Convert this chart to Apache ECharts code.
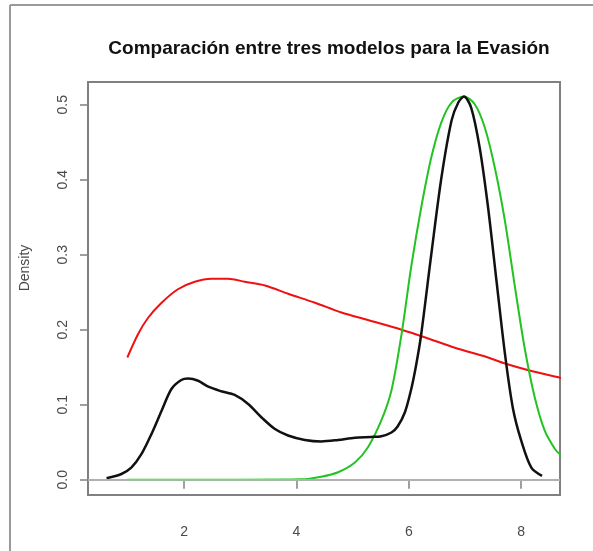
<!DOCTYPE html>
<html>
<head>
<meta charset="utf-8">
<script src="https://cdn.jsdelivr.net/npm/echarts@6/dist/echarts.min.js"></script>
<style>
  html, body { margin: 0; padding: 0; background: #fff; }
  #chart { width: 593px; height: 551px; }
</style>
</head>
<body>
<div id="chart"></div>
<script>
// ---- Data ----
const titleText = "Comparación entre tres modelos para la Evasión";
const yAxisLabel = "Density";
const xTicks = [2, 4, 6, 8];
const yTicks = [0, 0.1, 0.2, 0.3, 0.4, 0.5];

// Black: empirical density
const blackX = [0.62, 0.885, 1.06, 1.24, 1.42, 1.60, 1.775, 1.95, 2.07, 2.25, 2.43, 2.66, 2.90, 3.14, 3.38, 3.61, 3.85, 4.15, 4.44, 4.74, 5.04, 5.33, 5.51, 5.69, 5.80, 5.93, 6.04, 6.13, 6.22, 6.40, 6.58, 6.76, 6.88, 6.98, 7.11, 7.26, 7.41, 7.56, 7.71, 7.85, 8.00, 8.18, 8.37];
const blackY = [0.002, 0.0076, 0.016, 0.034, 0.061, 0.092, 0.121, 0.133, 0.135, 0.132, 0.124, 0.118, 0.113, 0.101, 0.083, 0.068, 0.059, 0.053, 0.051, 0.053, 0.056, 0.057, 0.058, 0.063, 0.071, 0.090, 0.120, 0.153, 0.194, 0.301, 0.403, 0.479, 0.503, 0.511, 0.496, 0.443, 0.363, 0.265, 0.168, 0.096, 0.052, 0.016, 0.005];

// Red model
const redX = [0.99, 1.18, 1.36, 1.60, 1.89, 2.19, 2.49, 2.78, 3.08, 3.44, 3.85, 4.33, 4.80, 5.27, 5.87, 6.28, 6.82, 7.41, 7.71, 8.18, 8.69, 8.80];
const redY = [0.163, 0.194, 0.216, 0.236, 0.254, 0.264, 0.268, 0.268, 0.264, 0.259, 0.248, 0.236, 0.223, 0.213, 0.200, 0.190, 0.176, 0.163, 0.155, 0.145, 0.136, 0.134];

// Green model
const greenX = [0.99, 2.0, 3.0, 4.09, 4.44, 4.74, 5.04, 5.27, 5.51, 5.69, 5.87, 6.04, 6.22, 6.40, 6.58, 6.76, 6.98, 7.17, 7.35, 7.53, 7.71, 7.88, 8.06, 8.24, 8.42, 8.60, 8.69, 8.80];
const greenY = [0.0, 0.0, 0.0, 0.0005, 0.004, 0.010, 0.023, 0.043, 0.079, 0.119, 0.194, 0.283, 0.363, 0.430, 0.477, 0.503, 0.511, 0.501, 0.470, 0.416, 0.345, 0.261, 0.176, 0.110, 0.065, 0.041, 0.034, 0.029];

const pairs = (xs, ys) => xs.map((x, i) => [x, ys[i]]);

const chart = echarts.init(document.getElementById('chart'), null, { renderer: 'canvas' });
const axisGrey = '#808080';
const labelGrey = '#4a4a4a';
const fontFam = '"Liberation Sans", Arial, Helvetica, sans-serif';

chart.setOption({
  backgroundColor: '#ffffff',
  animation: false,
  title: {
    text: titleText,
    left: 324,
    textAlign: 'center',
    top: 34,
    textStyle: { fontFamily: fontFam, fontSize: 19, fontWeight: 'bold', color: '#111' }
  },
  grid: {
    left: 88, right: 33, top: 82, bottom: 56,
    show: true, borderColor: axisGrey, borderWidth: 2, backgroundColor: 'transparent'
  },
  xAxis: {
    type: 'value',
    min: 0.29, max: 8.69,
    splitLine: { show: false },
    axisLine: { show: true, lineStyle: { color: axisGrey, width: 2 } },
    axisTick: { show: true, customValues: xTicks, length: 9, lineStyle: { color: axisGrey, width: 1.5 } },
    axisLabel: {
      customValues: xTicks, margin: 30,
      fontFamily: fontFam, fontSize: 14, color: labelGrey,
      formatter: v => String(v)
    }
  },
  yAxis: {
    type: 'value',
    min: -0.0204, max: 0.5304,
    splitLine: { show: false },
    axisLine: { show: true, lineStyle: { color: axisGrey, width: 2 } },
    axisTick: { show: true, customValues: yTicks, length: 8, lineStyle: { color: axisGrey, width: 1.5 } },
    axisLabel: {
      customValues: yTicks, margin: 18, rotate: 90,
      fontFamily: fontFam, fontSize: 14, color: labelGrey,
      formatter: v => v.toFixed(1)
    }
  },
  graphic: [
    { type: 'line', shape: { x1: 10, y1: 5, x2: 593, y2: 5 }, style: { stroke: '#9a9a9a', lineWidth: 2 }, silent: true },
    { type: 'line', shape: { x1: 10, y1: 5, x2: 10, y2: 551 }, style: { stroke: '#9a9a9a', lineWidth: 2 }, silent: true },
    {
      type: 'text', x: 25, y: 268, rotation: Math.PI / 2,
      style: { text: yAxisLabel, font: '14px "Liberation Sans", Arial, sans-serif', fill: labelGrey, textAlign: 'center', textVerticalAlign: 'middle' }
    }
  ],
  series: [
    {
      type: 'line', data: pairs(redX, redY), smooth: 0.3, showSymbol: false, clip: true,
      lineStyle: { color: '#ee1111', width: 2 }, z: 2,
      markLine: {
        silent: true, symbol: 'none', label: { show: false },
        lineStyle: { color: '#c0c0c0', width: 1.5, type: 'solid' },
        data: [{ yAxis: 0 }]
      }
    },
    {
      type: 'line', data: pairs(greenX, greenY), smooth: 0.3, showSymbol: false, clip: true,
      lineStyle: { color: '#22c322', width: 2 }, z: 3
    },
    {
      type: 'line', data: pairs(blackX, blackY), smooth: 0.3, showSymbol: false, clip: true,
      lineStyle: { color: '#111111', width: 2.5 }, z: 4
    }
  ]
});
</script>
</body>
</html>
